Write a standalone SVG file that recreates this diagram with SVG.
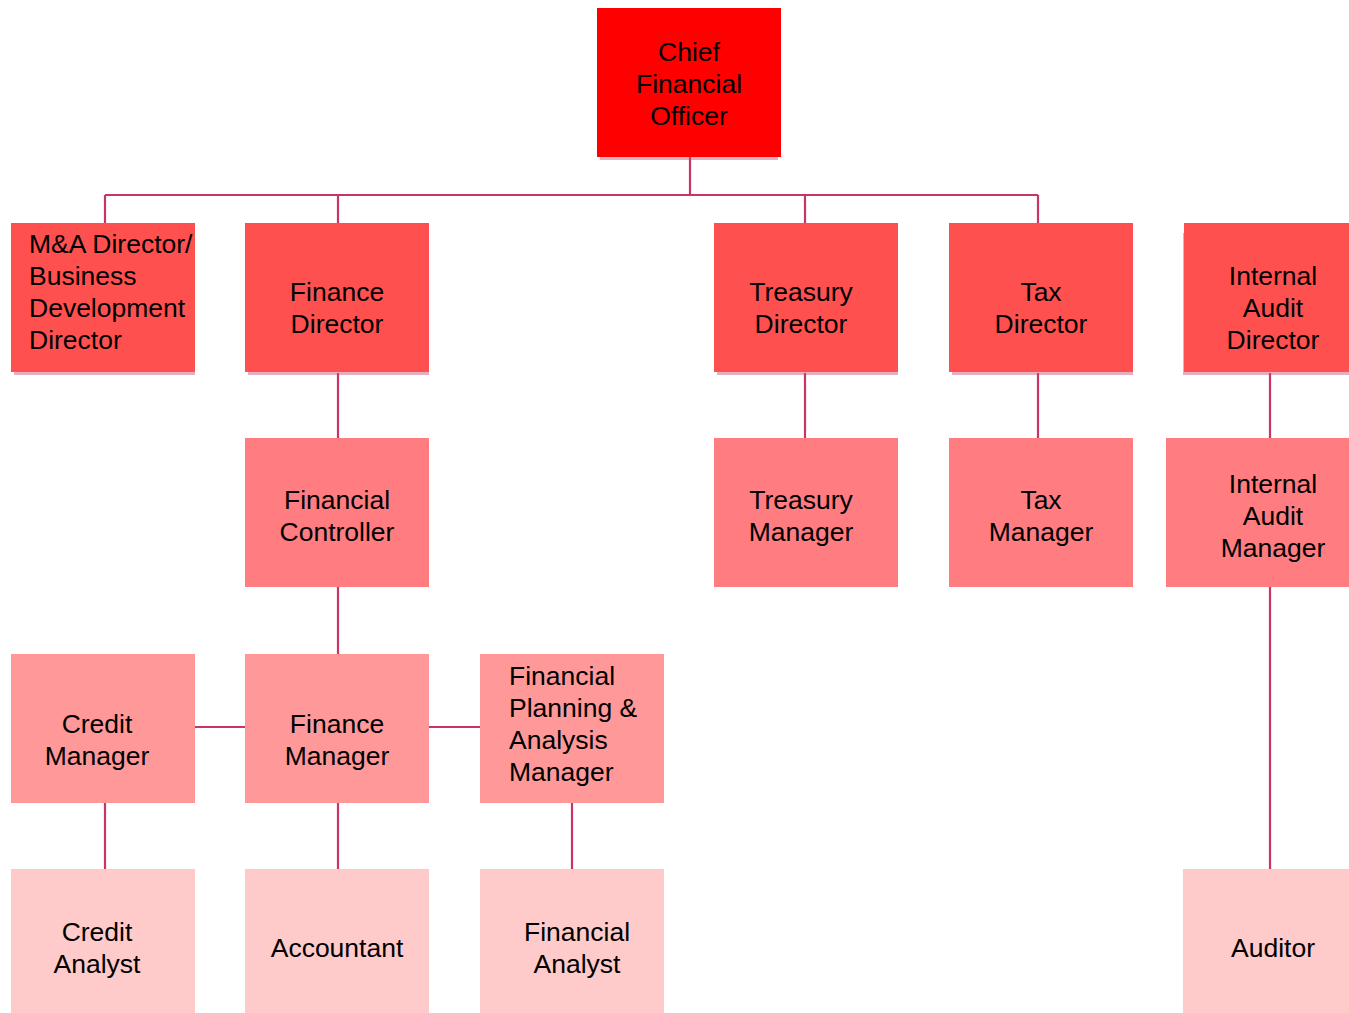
<svg xmlns="http://www.w3.org/2000/svg" width="1349" height="1013" viewBox="0 0 1349 1013">
<style>
text{font-family:"Liberation Sans",Arial,sans-serif;font-size:26.5px;fill:#000}
.c{text-anchor:middle}
.sh{fill:#c05070;opacity:0.45}
.l0{fill:#ff0000}.l1{fill:#ff5050}.l2{fill:#ff7c80}.l3{fill:#ff9999}.l4{fill:#ffcaca}
#connectors path{stroke:#c8336a;stroke-width:2.2;fill:none}
</style>
<rect width="1349" height="1013" fill="#fff"/>
<g id="connectors">
<path d="M690 157V195M105 195H1038M105 195V223M338 195V223M805 195V223M1038 195V223"/>
<path d="M338 373V438M338 587V654M338 803V869M105 803V869M572 803V869M195 727H245M429 727H480"/>
<path d="M805 373V438M1038 373V438M1270 373V438M1270 587V869"/>
</g>
<g id="cfo"><rect class="sh" x="600" y="11" width="178" height="149"/><rect class="l0" x="597" y="8" width="184" height="149"/>
<text class="c" x="689" y="61">Chief</text><text class="c" x="689" y="93">Financial</text><text class="c" x="689" y="125">Officer</text></g>
<g id="ma"><rect class="sh" x="14" y="226" width="181" height="149"/><rect class="l1" x="11" y="223" width="184" height="149"/>
<text x="29" y="253">M&amp;A Director/</text><text x="29" y="285">Business</text><text x="29" y="317">Development</text><text x="29" y="349">Director</text></g>
<g id="finance-director"><rect class="sh" x="248" y="226" width="181" height="149"/><rect class="l1" x="245" y="223" width="184" height="149"/>
<text class="c" x="337" y="301">Finance</text><text class="c" x="337" y="333">Director</text></g>
<g id="treasury-director"><rect class="sh" x="717" y="226" width="181" height="149"/><rect class="l1" x="714" y="223" width="184" height="149"/>
<text class="c" x="801" y="301">Treasury</text><text class="c" x="801" y="333">Director</text></g>
<g id="tax-director"><rect class="sh" x="952" y="226" width="181" height="149"/><rect class="l1" x="949" y="223" width="184" height="149"/>
<text class="c" x="1041" y="301">Tax</text><text class="c" x="1041" y="333">Director</text></g>
<g id="internal-audit-director"><rect class="sh" x="1183" y="233" width="166" height="142"/><rect class="l1" x="1184" y="223" width="165" height="149"/>
<text class="c" x="1273" y="285">Internal</text><text class="c" x="1273" y="317">Audit</text><text class="c" x="1273" y="349">Director</text></g>
<g id="financial-controller"><rect class="l2" x="245" y="438" width="184" height="149"/>
<text class="c" x="337" y="509">Financial</text><text class="c" x="337" y="541">Controller</text></g>
<g id="treasury-manager"><rect class="l2" x="714" y="438" width="184" height="149"/>
<text class="c" x="801" y="509">Treasury</text><text class="c" x="801" y="541">Manager</text></g>
<g id="tax-manager"><rect class="l2" x="949" y="438" width="184" height="149"/>
<text class="c" x="1041" y="509">Tax</text><text class="c" x="1041" y="541">Manager</text></g>
<g id="internal-audit-manager"><rect class="l2" x="1166" y="438" width="183" height="149"/>
<text class="c" x="1273" y="493">Internal</text><text class="c" x="1273" y="525">Audit</text><text class="c" x="1273" y="557">Manager</text></g>
<g id="credit-manager"><rect class="l3" x="11" y="654" width="184" height="149"/>
<text class="c" x="97" y="733">Credit</text><text class="c" x="97" y="765">Manager</text></g>
<g id="finance-manager"><rect class="l3" x="245" y="654" width="184" height="149"/>
<text class="c" x="337" y="733">Finance</text><text class="c" x="337" y="765">Manager</text></g>
<g id="fpa-manager"><rect class="l3" x="480" y="654" width="184" height="149"/>
<text x="509" y="685">Financial</text><text x="509" y="717">Planning &amp;</text><text x="509" y="749">Analysis</text><text x="509" y="781">Manager</text></g>
<g id="credit-analyst"><rect class="l4" x="11" y="869" width="184" height="144"/>
<text class="c" x="97" y="941">Credit</text><text class="c" x="97" y="973">Analyst</text></g>
<g id="accountant"><rect class="l4" x="245" y="869" width="184" height="144"/>
<text class="c" x="337" y="957">Accountant</text></g>
<g id="financial-analyst"><rect class="l4" x="480" y="869" width="184" height="144"/>
<text class="c" x="577" y="941">Financial</text><text class="c" x="577" y="973">Analyst</text></g>
<g id="auditor"><rect class="l4" x="1183" y="869" width="166" height="144"/>
<text class="c" x="1273" y="957">Auditor</text></g>
</svg>
